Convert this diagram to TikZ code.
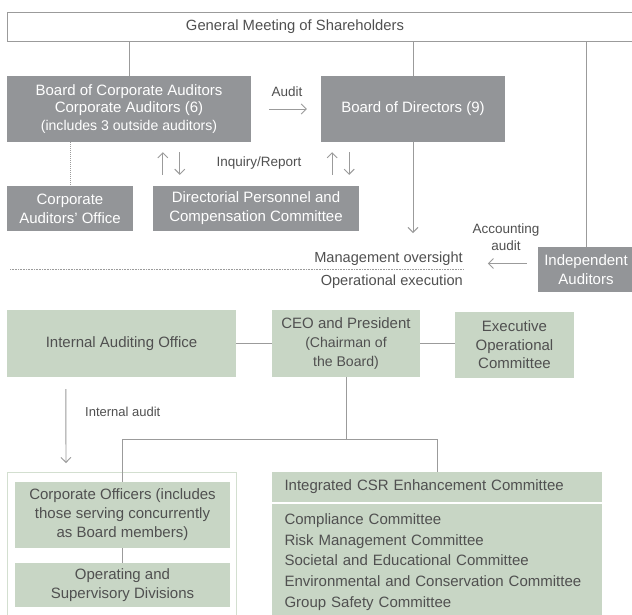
\documentclass[tikz,border=0pt]{standalone}
\usepackage{fontspec}
\setmainfont{Liberation Sans}
\usetikzlibrary{arrows.meta,calc}
\definecolor{boxgray}{HTML}{939598}
\definecolor{sage}{HTML}{C8D6C5}
\definecolor{framegreen}{HTML}{D3DFD0}
\definecolor{linegray}{HTML}{9B9B9B}
\definecolor{txtgray}{HTML}{505050}
\tikzset{
  graybox/.style={fill=boxgray, text=white, inner sep=0pt, align=center, font=\fontsize{15}{19}\selectfont},
  greenbox/.style={fill=sage, text=txtgray, inner sep=0pt, align=center, font=\fontsize{15}{19}\selectfont},
  conn/.style={draw=linegray, line width=0.9pt},
  arr/.style={draw=linegray, line width=0.9pt, -{Straight Barb[length=5pt,width=10pt]}},
  lbl/.style={text=txtgray, inner sep=0pt, align=center, font=\fontsize{13.5}{17}\selectfont},
}
\begin{document}
\begin{tikzpicture}[x=1pt,y=-1pt]
\fill[white] (0,0) rectangle (632,614);
\useasboundingbox (0,0) rectangle (632,614);

% top
\node[draw=linegray, line width=1pt, minimum width=640, minimum height=29, inner sep=0pt, anchor=north west] (gms) at (7,12) {};
\node[lbl, font=\fontsize{14.8}{17}\selectfont] (gmstext) at (295,27) {General Meeting of Shareholders};

\node[graybox, minimum width=244, minimum height=66, font=\fontsize{15}{17.5}\selectfont] (bca) at (129,109)
  {Board of Corporate Auditors\\Corporate Auditors (6)\\{\fontsize{14.1}{17.5}\selectfont (includes 3 outside auditors)}};
\node[graybox, minimum width=184, minimum height=66] (bod) at (413,109) {Board of Directors (9)};
\node[graybox, minimum width=126, minimum height=45] (cao) at (70,208.5) {Corporate\\Auditors' Office};
\node[graybox, minimum width=206, minimum height=45] (dpcc) at (256,208.5) {Directorial Personnel and\\Compensation Committee};
\node[graybox, minimum width=96, minimum height=45] (indep) at (586,269.5) {Independent\\Auditors};

% green row
\node[greenbox, minimum width=229, minimum height=67] (iao) at (121.5,343.5) {Internal Auditing Office};
\node[greenbox, minimum width=148, minimum height=67] (ceo) at (346,343.5)
  {CEO and President\\{\fontsize{14.1}{18.5}\selectfont (Chairman of}\\{\fontsize{14.1}{18.5}\selectfont the Board)}};
\node[greenbox, minimum width=119, minimum height=66, font=\fontsize{15}{18.5}\selectfont] (eoc) at (514.5,345) {Executive\\Operational\\Committee};

% bottom
\node[draw=framegreen, line width=1.2pt, minimum width=229, minimum height=150, anchor=north west, inner sep=0pt] (grp) at (7,472) {};
\node[greenbox, minimum width=215, minimum height=66] (co) at (122.5,515)
  {Corporate Officers (includes\\those serving concurrently\\as Board members)};
\node[greenbox, minimum width=215, minimum height=44] (osd) at (122.5,585) {Operating and\\Supervisory Divisions};
\node[greenbox, minimum width=330, minimum height=30, text width=305, align=left] (csr) at (437,487)
  {Integrated CSR Enhancement Committee};
\node[greenbox, minimum width=330, minimum height=116, text width=305, align=left, font=\fontsize{15}{20.75}\selectfont] (csrlist) at (437,562)
  {Compliance Committee\\Risk Management Committee\\Societal and Educational Committee\\Environmental and Conservation Committee\\Group Safety Committee};

% connectors from the general meeting
\draw[conn] (gms.south -| bca.north) -- (bca.north);
\draw[conn] (gms.south -| bod.north) -- (bod.north);
\draw[conn] (gms.south -| indep.north) -- (indep.north);
\draw[draw=linegray, line width=0.8pt, dash pattern=on 0.8pt off 1.2pt] (bca.south -| cao.north) -- (cao.north);

% audit
\draw[arr, shorten <=18pt, shorten >=14pt] (bca.east) -- (bod.west);
\node[lbl] (auditlbl) at (287,92) {Audit};

% inquiry / report
\draw[arr] ($(dpcc.north west)+(10,-11)$) -- ($(bca.south -| dpcc.north west)+(10,10)$);
\draw[arr] ($(bca.south -| dpcc.north west)+(27,10)$) -- ($(dpcc.north west)+(27,-11)$);
\draw[arr] ($(dpcc.north east)+(-27,-11)$) -- ($(bod.south -| dpcc.north east)+(-27,10)$);
\draw[arr] ($(bod.south -| dpcc.north east)+(-10,10)$) -- ($(dpcc.north east)+(-10,-11)$);
\node[lbl] (inqlbl) at (259,163) {Inquiry/Report};

% oversight
\coordinate (ovtip) at (413,233);
\draw[arr] (bod.south) -- (ovtip);
\coordinate (divL) at (10,269);
\coordinate (divR) at (463,269);
\draw[draw=linegray, line width=0.6pt, dash pattern=on 0.8pt off 0.8pt] (divL) -- (divR);
\node[lbl, anchor=east, font=\fontsize{14.6}{17}\selectfont] (mo) at (463,259) {Management oversight};
\node[lbl, anchor=east, font=\fontsize{14.6}{17}\selectfont] (oe) at (463,282) {Operational execution};

% accounting audit
\draw[arr] ($(indep.west)+(-11,-6)$) -- ($(indep.west)+(-50,-6)$);
\node[lbl] (acclbl) at (506,237.5) {Accounting\\audit};

% executive row
\draw[conn] (iao.east) -- (ceo.west);
\draw[conn] (ceo.east) -- (ceo.east -| eoc.west);
\coordinate (jn) at (346,439);
\draw[conn] (ceo.south) -- (jn);
\draw[conn] (co.north) -- (co.north |- jn) -- (csr.north |- jn) -- (csr.north);
\draw[conn] (co.south) -- (osd.north);

% internal audit
\draw[arr] ($(iao.south west)+(59,12)$) -- ($(grp.north west)+(59,-9)$);
\node[lbl, anchor=west, font=\fontsize{13}{16}\selectfont] (ialbl) at (85,412) {Internal audit};
\end{tikzpicture}
\end{document}
